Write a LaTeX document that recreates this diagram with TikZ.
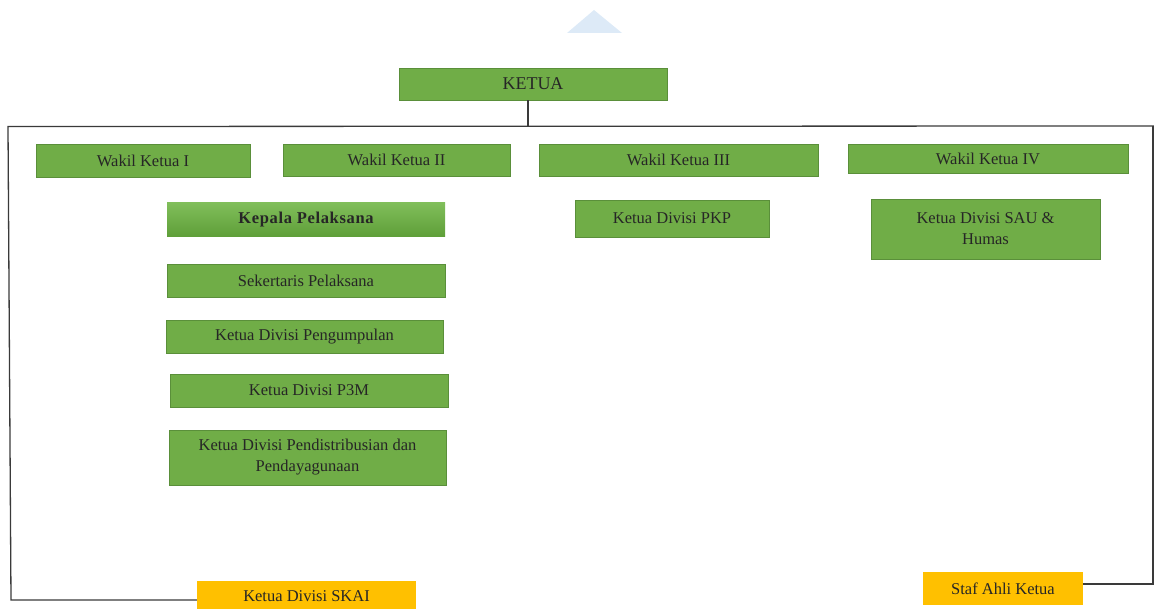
\documentclass[tikz,border=0pt]{standalone}
\usepackage{fontspec}
\setmainfont{Liberation Serif}
\definecolor{gfill}{HTML}{70AD47}
\definecolor{gline}{HTML}{5A8F3A}
\definecolor{gtop}{HTML}{80BE5A}
\definecolor{gbot}{HTML}{5E9E38}
\definecolor{ofill}{HTML}{FFC000}
\definecolor{frame}{HTML}{3A3A3A}
\definecolor{wm}{HTML}{DDEAF7}
\begin{document}
\begin{tikzpicture}[x=1pt,y=-1pt,
  box/.style={draw=gline, line width=0.9pt, fill=gfill, inner sep=0pt, align=center,
    font=\fontsize{16.5}{21}\selectfont, text=black!85},
  obox/.style={fill=ofill, inner sep=0pt, align=center,
    font=\fontsize{16.5}{21}\selectfont, text=black!85},
  conn/.style={draw=frame, line width=1.3pt}]
\useasboundingbox (0,0) rectangle (1154,609);
% faint watermark
\fill[wm] (567,33) -- (594,10) -- (622,33) -- cycle;

\node[box, minimum width=268pt, minimum height=32pt, font=\fontsize{18}{19}\selectfont] (ketua) at (533,84) {KETUA};

\node[box, minimum width=214pt, minimum height=33pt] (w1) at (143,160.5) {Wakil Ketua I};
\node[box, minimum width=227pt, minimum height=32pt] (w2) at (396.5,160) {Wakil Ketua II};
\node[box, minimum width=279pt, minimum height=32pt] (w3) at (678.5,160) {Wakil Ketua III};
\node[box, minimum width=280pt, minimum height=29pt] (w4) at (988,158.5) {Wakil Ketua IV};

\node[box, draw=none, top color=gtop, bottom color=gbot, minimum width=278pt, minimum height=34pt,
  font=\fontsize{16.5}{17}\selectfont\bfseries\addfontfeature{LetterSpace=4}] (kp) at (306,220) {Kepala Pelaksana};
\node[box, minimum width=278pt, minimum height=33pt] (sp) at (306,280.5) {Sekertaris Pelaksana};
\node[box, minimum width=277pt, minimum height=33pt] (kdp) at (304.5,336.5) {Ketua Divisi Pengumpulan};
\node[box, minimum width=278pt, minimum height=33pt] (p3m) at (309,390.5) {Ketua Divisi P3M};
\node[box, minimum width=277pt, minimum height=55pt] (pdp) at (307.5,457.5) {Ketua Divisi Pendistribusian dan\\Pendayagunaan};

\node[box, minimum width=194pt, minimum height=37pt] (pkp) at (672,218.5) {Ketua Divisi PKP};
\node[box, minimum width=229pt, minimum height=60pt] (sau) at (985.5,229) {Ketua Divisi SAU \&\\Humas};

\node[obox, minimum width=219pt, minimum height=30pt] (skai) at (306.5,596) {Ketua Divisi SKAI};
\node[obox, minimum width=160pt, minimum height=33pt] (staf) at (1003,588.5) {Staf Ahli Ketua};

\coordinate (tl) at (8,126.5);
\coordinate (tr) at (1154,126);
\coordinate (bl) at (11,600);
\coordinate (rt) at (1153,126);
\coordinate (br) at (1153,584);
\coordinate (kd) at ([xshift=-5pt]ketua.south);

\draw[conn] (kd) -- (kd |- tr);
\draw[conn] (tr) -- (tl) -- (bl) -- (skai.west |- bl);
\draw[conn] (rt) -- (br) -- (staf.east |- br);
\end{tikzpicture}
\end{document}
